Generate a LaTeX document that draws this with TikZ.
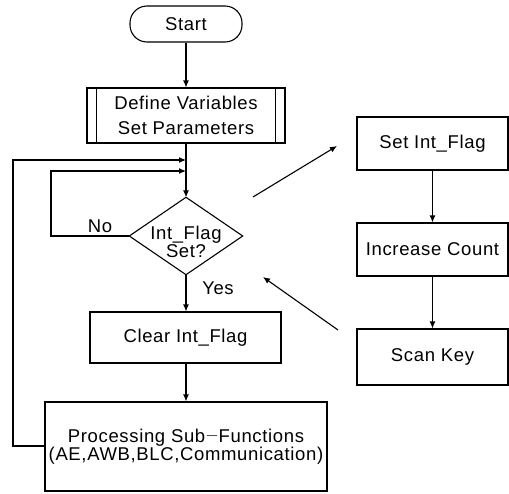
\documentclass[tikz,border=0pt]{standalone}
\usepackage{fontspec}
\setmainfont[LetterSpace=3.5]{Liberation Sans}
\usetikzlibrary{arrows.meta}
\begin{document}
\begin{tikzpicture}[x=1pt,y=-1pt,
  every node/.style={font=\fontsize{18.5}{19}\selectfont},
  ln/.style={line width=1.1pt},
  arr/.style={ln,-{Latex[length=7pt,width=6pt]}},
  box/.style={draw,ln,inner sep=0pt,align=center},
  lbl/.style={inner sep=1pt}]
\useasboundingbox (0,0) rectangle (509,493);
% main column
\node[box,rounded corners=17pt,minimum width=112pt,minimum height=36pt] (start) at (186,24) {Start};
\node[box,minimum width=198pt,minimum height=55pt,font=\fontsize{18.5}{25}\selectfont] (def) at (186,115.5) {Define Variables\\Set Parameters};
\draw[ln] ([xshift=10pt]def.north west) -- ([xshift=10pt]def.south west);
\draw[ln] ([xshift=-10pt]def.north east) -- ([xshift=-10pt]def.south east);
\node[inner sep=0pt,minimum width=113pt,minimum height=77pt] (dec) at (186,236) {};
\draw[ln] (dec.north) -- (dec.east) -- (dec.south) -- (dec.west) -- cycle;
\node[align=center,inner sep=0pt,font=\fontsize{18.5}{18}\selectfont] (dectext) at (186,242) {Int\_Flag\\Set?};
\node[box,minimum width=191pt,minimum height=51pt] (clr) at (185.5,337.5) {Clear Int\_Flag};
\node[box,minimum width=282pt,minimum height=89pt,font=\fontsize{18.5}{16}\selectfont] (proc) at (186,446.5) {Processing Sub{\raisebox{0.2ex}{$-$}}Functions\\(AE,AWB,BLC,Communication)};
% right column
\node[box,minimum width=151pt,minimum height=53pt] (setf) at (432.5,143.5) {Set Int\_Flag};
\node[box,minimum width=151pt,minimum height=53pt] (inc) at (432.5,249.5) {Increase Count};
\node[box,minimum width=151pt,minimum height=56pt] (scan) at (432.5,357) {Scan Key};
% loop junction points
\coordinate (j1) at (186,160);
\coordinate (j2) at (186,171);
% connectors
\draw[arr] (start) -- (def);
\draw[arr] (def.south) -- (dec.north);
\draw[arr] (dec.south) -- (clr.north -| dec.south);
\draw[arr] (clr.south -| proc.north) -- (proc.north);
\draw[arr] (proc.west |- 0,446) -- (13,446) -- (13,160) -- (j1);
\draw[arr] (dec.west) -- (51,236) -- (51,171) -- (j2);
\draw[arr] (setf) -- (inc);
\draw[arr] (inc) -- (scan);
% interrupt arrows
\coordinate (a1s) at (253,197);
\coordinate (a1e) at (337,146);
\coordinate (a2s) at (338,330);
\coordinate (a2e) at (263,277);
\draw[arr] (a1s) -- (a1e);
\draw[arr] (a2s) -- (a2e);
% labels
\node[lbl] (no) at (100,226) {No};
\node[lbl] (yes) at (218,288) {Yes};
\end{tikzpicture}
\end{document}
